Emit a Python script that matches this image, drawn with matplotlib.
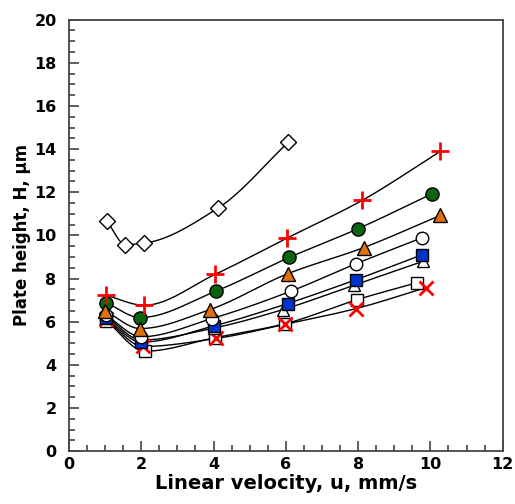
import numpy as np
import matplotlib
matplotlib.use("Agg")
import matplotlib.pyplot as plt
from matplotlib.ticker import MultipleLocator

plt.rcParams['font.family'] = ['DejaVu Sans']
plt.rcParams['font.weight'] = 'bold'

# Data (u in mm/s, H in um)
x_diamond = [1.05, 1.56, 2.08, 4.12, 6.07]
y_diamond = [10.66, 9.57, 9.64, 11.26, 14.32]

x_plus = [1.03, 2.08, 4.04, 6.04, 8.11, 10.28]
y_plus = [7.22, 6.76, 8.19, 9.88, 11.62, 13.9]

x_green = [1.03, 1.97, 4.07, 6.1, 8.0, 10.05]
y_green = [6.88, 6.19, 7.42, 8.98, 10.31, 11.93]

x_orange = [1.0, 1.97, 3.9, 6.05, 8.15, 10.28]
y_orange = [6.5, 5.68, 6.56, 8.22, 9.43, 10.93]

x_ocircle = [1.03, 2.0, 3.95, 6.15, 7.95, 9.77]
y_ocircle = [6.3, 5.3, 6.14, 7.42, 8.69, 9.89]

x_otri = [1.03, 2.0, 4.0, 5.92, 7.9, 9.8]
y_otri = [6.25, 5.15, 5.7, 6.56, 7.7, 8.8]

x_blue = [1.03, 2.0, 4.0, 6.05, 7.95, 9.77]
y_blue = [6.15, 5.05, 5.8, 6.84, 7.95, 9.1]

x_osq = [1.03, 2.1, 4.05, 5.99, 7.97, 9.64]
y_osq = [6.05, 4.63, 5.26, 5.91, 7.02, 7.81]

x_cross = [1.03, 2.05, 4.07, 5.99, 7.93, 9.89]
y_cross = [6.1, 4.85, 5.22, 5.88, 6.6, 7.58]


def smooth(x, y, n=200):
    # monotone cubic (Fritsch-Carlson) curve through the points
    x = np.asarray(x, float)
    y = np.asarray(y, float)
    h = np.diff(x)
    d = np.diff(y) / h
    m = np.zeros(len(x))
    m[0], m[-1] = d[0], d[-1]
    for i in range(1, len(x) - 1):
        if d[i - 1] * d[i] > 0:
            w1 = 2 * h[i] + h[i - 1]
            w2 = h[i] + 2 * h[i - 1]
            m[i] = (w1 + w2) / (w1 / d[i - 1] + w2 / d[i])
    xs = np.linspace(x[0], x[-1], n)
    j = np.clip(np.searchsorted(x, xs) - 1, 0, len(x) - 2)
    t = (xs - x[j]) / h[j]
    h00 = 2 * t**3 - 3 * t**2 + 1
    h10 = t**3 - 2 * t**2 + t
    h01 = -2 * t**3 + 3 * t**2
    h11 = t**3 - t**2
    ys = h00 * y[j] + h10 * h[j] * m[j] + h01 * y[j + 1] + h11 * h[j] * m[j + 1]
    return xs, ys


fig = plt.figure(figsize=(5.15, 5.04), dpi=100)
ax = fig.add_axes([0.134, 0.105, 0.842, 0.856])

series = [
    (x_osq, y_osq, dict(marker='s', mfc='white', mec='black', ms=9, mew=1)),
    (x_cross, y_cross, dict(marker='x', color='red', ms=10, mew=2)),
    (x_otri, y_otri, dict(marker='^', mfc='white', mec='black', ms=9, mew=1)),
    (x_blue, y_blue, dict(marker='s', mfc='#0033cc', mec='black', ms=9, mew=1)),
    (x_ocircle, y_ocircle, dict(marker='o', mfc='white', mec='black', ms=9, mew=1)),
    (x_green, y_green, dict(marker='o', mfc='#0a6410', mec='black', ms=9.5, mew=1)),
    (x_orange, y_orange, dict(marker='^', mfc='#e0700f', mec='black', ms=10, mew=1)),
    (x_plus, y_plus, dict(marker='+', color='red', ms=13, mew=2)),
    (x_diamond, y_diamond, dict(marker='D', mfc='white', mec='black', ms=8, mew=1)),
]

for xv, yv, style in series:
    xs, ys = smooth(xv, yv)
    ax.plot(xs, ys, color='black', lw=1, zorder=2)
for xv, yv, style in series:
    ax.plot(xv, yv, ls='none', zorder=3, **style)

ax.set_xlim(0, 12)
ax.set_ylim(0, 20)
ax.xaxis.set_major_locator(MultipleLocator(2))
ax.xaxis.set_minor_locator(MultipleLocator(0.5))
ax.yaxis.set_major_locator(MultipleLocator(2))
ax.yaxis.set_minor_locator(MultipleLocator(0.5))
ax.tick_params(which='both', direction='in', top=False, right=False, width=1.2, color='#444444')
ax.tick_params(which='major', length=7, labelsize=11.5)
ax.tick_params(axis='y', which='major', pad=9)
ax.tick_params(axis='x', which='major', pad=4)
ax.tick_params(which='minor', length=4)
for s in ax.spines.values():
    s.set_linewidth(1.3)
    s.set_color('#444444')

ax.set_xlabel('Linear velocity, u, mm/s', fontsize=14, fontweight='bold', labelpad=2)
ax.set_ylabel('Plate height, H, µm', fontsize=12, fontweight='bold', labelpad=2)

fig.savefig('out.png', dpi=100)
